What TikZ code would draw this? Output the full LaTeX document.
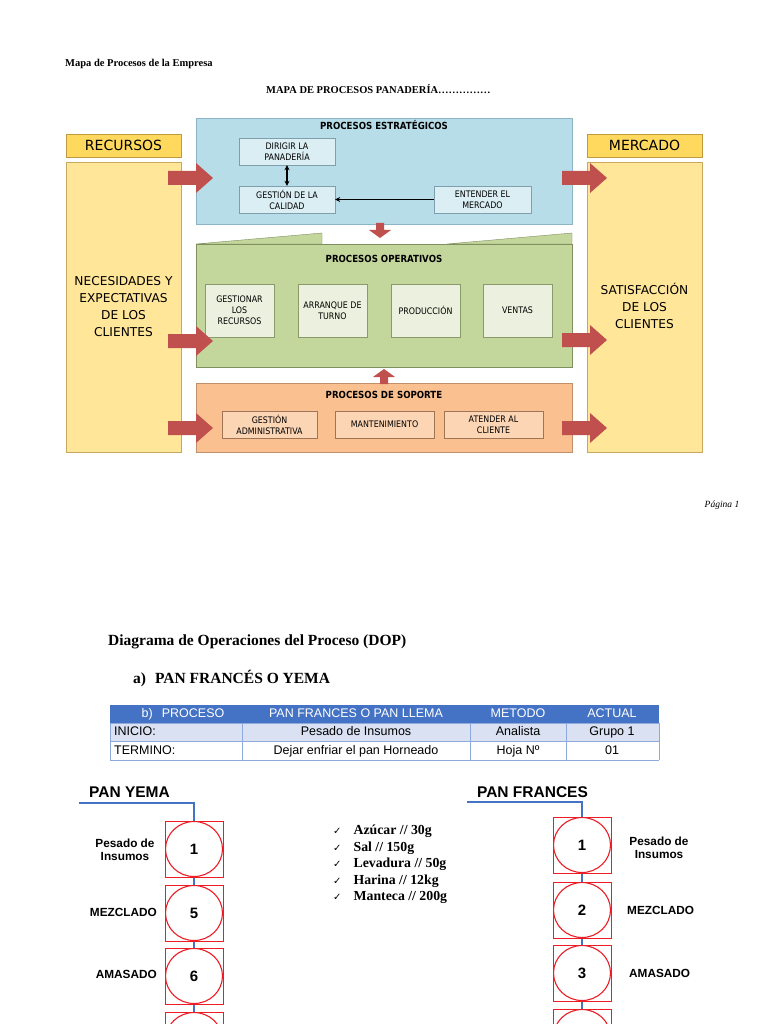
\documentclass[tikz,border=0pt]{standalone}
\usepackage{fontspec}
\setmainfont{Liberation Serif}
\newfontfamily\arial{Liberation Sans}
\newfontfamily\tah[FakeStretch=0.88]{DejaVu Sans}
\newfontfamily\dejavu{DejaVu Sans}
\usetikzlibrary{arrows.meta}
\definecolor{hdrfill}{HTML}{FFD95E}
\definecolor{hdrline}{HTML}{C09A40}
\definecolor{bodyfill}{HTML}{FFE699}
\definecolor{bodyline}{HTML}{C8A860}
\definecolor{stratfill}{HTML}{B7DDE8}
\definecolor{stratline}{HTML}{8DB3C7}
\definecolor{stratin}{HTML}{DAEEF3}
\definecolor{stratinl}{HTML}{7F9FAF}
\definecolor{operfill}{HTML}{C3D69B}
\definecolor{operline}{HTML}{7F8F5F}
\definecolor{operin}{HTML}{EBF1DE}
\definecolor{operinl}{HTML}{8A9A6A}
\definecolor{sopfill}{HTML}{FAC090}
\definecolor{sopline}{HTML}{C0906A}
\definecolor{sopin}{HTML}{FCD5B4}
\definecolor{sopinl}{HTML}{9F7556}
\definecolor{arrowred}{HTML}{C0504D}
\definecolor{tblue}{HTML}{4472C4}
\definecolor{tlav}{HTML}{D9E1F2}
\definecolor{tline}{HTML}{8EA9DB}
\definecolor{dopred}{HTML}{EE1C25}
\tikzset{
  hdr/.style={draw=hdrline, fill=hdrfill, minimum width=115pt, minimum height=23pt, inner sep=0pt, font=\dejavu\fontsize{14}{16}\selectfont},
  sidebox/.style={draw=bodyline, fill=bodyfill, minimum width=115pt, minimum height=290pt, inner sep=0pt},
  sidetext/.style={inner sep=0pt, align=center, font=\dejavu\fontsize{12.2}{17}\selectfont},
  bigbox/.style={draw=#1line, fill=#1fill, minimum width=376pt, inner sep=0pt},
  smallbox/.style={draw=#1inl, fill=#1in, inner sep=0pt, align=center, font=\tah\fontsize{9}{11}\selectfont},
  boxtitle/.style={font=\tah\bfseries\fontsize{9.8}{11}\selectfont, inner sep=0pt},
  rarrow/.pic={\fill[arrowred] (0,-7) -- (28,-7) -- (28,-15) -- (45,0) -- (28,15) -- (28,7) -- (0,7) -- cycle;},
  sarrow/.pic={\fill[arrowred] (0,-4) -- (7,-4) -- (7,-11) -- (15,0) -- (7,11) -- (7,4) -- (0,4) -- cycle;},
  opstep/.style={draw=dopred, line width=1pt, minimum width=58pt, minimum height=56pt, inner sep=0pt,
    font=\arial\bfseries\fontsize{15}{17}\selectfont,
    path picture={\draw[dopred, line width=1.1pt] (path picture bounding box.center) ellipse (28.5pt and 27.5pt);}},
  oplabel/.style={font=\arial\bfseries\fontsize{11.8}{13.5}\selectfont, inner sep=0pt, align=center},
  doplink/.style={draw=tblue, line width=1.3pt},
  tcell/.style={font=\arial\fontsize{12.5}{14}\selectfont, inner sep=0pt, text height=9pt, text depth=2.6pt},
  thead/.style={tcell, text=white},
  tip/.style={line width=1.4pt},
}
\begin{document}
\begin{tikzpicture}[x=1pt,y=-1pt]
\useasboundingbox (0,0) rectangle (768,1024);
\clip (0,0) rectangle (768,1024);
\fill[white] (0,0) rectangle (768,1024);

% ---- header texts ----
\node[anchor=west, inner sep=0pt, font=\bfseries\fontsize{10.5}{12}\selectfont] (t1) at (65,64) {Mapa de Procesos de la Empresa};
\node[anchor=west, inner sep=0pt, font=\bfseries\fontsize{10.5}{12}\selectfont] (t2) at (266,89) {MAPA DE PROCESOS PANADERÍA……………};

% ---- side boxes ----
\node[hdr] (rec) at (123.5,145.5) {RECURSOS};
\node[sidebox] (needs) at (123.5,307) {};
\node[sidetext] (needsT) at (123.5,306.5) {NECESIDADES Y\\EXPECTATIVAS\\DE LOS\\CLIENTES};
\node[hdr] (mer) at (644.5,145.5) {MERCADO};
\node[sidebox] (sat) at (644.5,307) {};
\node[sidetext] (satT) at (644.5,306) {SATISFACCIÓN\\DE LOS\\CLIENTES};

% ---- strategic ----
\node[bigbox=strat, minimum height=106pt] (strat) at (384,171) {};
\node[boxtitle] (stratT) at (384,125) {PROCESOS ESTRATÉGICOS};
\node[smallbox=strat, minimum width=96pt, minimum height=27pt] (dir) at (287,151.5) {DIRIGIR LA\\PANADERÍA};
\node[smallbox=strat, minimum width=96pt, minimum height=27pt] (cal) at (287,199.5) {GESTIÓN DE LA\\CALIDAD};
\node[smallbox=strat, minimum width=97pt, minimum height=27pt] (ent) at (482.5,199.5) {ENTENDER EL\\MERCADO};
\draw[tip, {Stealth[length=5pt,width=5pt]}-{Stealth[length=5pt,width=5pt]}] (dir.south) -- (cal.north);
\draw[tip, -{Stealth[length=5pt,width=5pt]}] (ent.west) -- (cal.east);

% ---- operative ----
\filldraw[fill=operfill, draw=operline] (196,244) -- (322,233) -- (322,244) -- cycle;
\filldraw[fill=operfill, draw=operline] (447,244) -- (572,233) -- (572,244) -- cycle;
\node[bigbox=oper, minimum height=123pt] (oper) at (384,305.5) {};
\node[boxtitle] (operT) at (384,259) {PROCESOS OPERATIVOS};
\node[smallbox=oper, minimum width=69pt, minimum height=53pt] (op1) at (239.5,310.5) {GESTIONAR\\LOS\\RECURSOS};
\node[smallbox=oper, minimum width=69pt, minimum height=53pt] (op2) at (332.5,310.5) {ARRANQUE DE\\TURNO};
\node[smallbox=oper, minimum width=69pt, minimum height=53pt] (op3) at (425.5,310.5) {PRODUCCIÓN};
\node[smallbox=oper, minimum width=69pt, minimum height=53pt] (op4) at (517.5,310.5) {VENTAS};

% ---- support ----
\node[bigbox=sop, minimum height=69pt] (sop) at (384,417.5) {};
\node[boxtitle] (sopT) at (384,395) {PROCESOS DE SOPORTE};
\node[smallbox=sop, minimum width=95pt, minimum height=27pt] (s1) at (269.5,424.5) {GESTIÓN\\ADMINISTRATIVA};
\node[smallbox=sop, minimum width=99pt, minimum height=27pt] (s2) at (384.5,424.5) {MANTENIMIENTO};
\node[smallbox=sop, minimum width=99pt, minimum height=27pt] (s3) at (493.5,424.5) {ATENDER AL\\CLIENTE};

% ---- red arrows ----
\pic at (168,178) {rarrow};
\pic at (168,341) {rarrow};
\pic at (168,428) {rarrow};
\pic at (562,178) {rarrow};
\pic at (562,340) {rarrow};
\pic at (562,428) {rarrow};
\pic[rotate=-90] at (380,223) {sarrow};
\pic[rotate=90] at (384,384) {sarrow};

\node[inner sep=0pt, font=\itshape\fontsize{9.5}{11}\selectfont] (pag) at (722,505) {Página 1};

% ---- DOP titles ----
\node[anchor=west, inner sep=0pt, font=\bfseries\fontsize{15.5}{17}\selectfont] (dopT) at (108,642) {Diagrama de Operaciones del Proceso (DOP)};
\node[anchor=west, inner sep=0pt, font=\bfseries\fontsize{15.5}{17}\selectfont] (dopA) at (133,678) {a)\hspace{9pt}PAN FRANCÉS O YEMA};

% ---- table ----
\fill[tblue] (110,705) rectangle (659,723);
\fill[tlav] (110,723) rectangle (659,741);
\draw[tline, line width=0.8pt] (110,723) -- (659,723) (110,741) -- (659,741) (110,760) -- (659,760)
  (110,723) -- (110,760) (242,723) -- (242,760) (470,723) -- (470,760) (566,723) -- (566,760) (659,723) -- (659,760);
\node[thead] (h1) at (183,714) {b)\hspace{9pt}PROCESO};
\node[thead] (h2) at (356,714) {PAN FRANCES O PAN LLEMA};
\node[thead] (h3) at (518,714) {METODO};
\node[thead] (h4) at (612,714) {ACTUAL};
\node[tcell, anchor=west] (c21) at (114,732) {INICIO:};
\node[tcell] (c22) at (356,732) {Pesado de Insumos};
\node[tcell] (c23) at (518,732) {Analista};
\node[tcell] (c24) at (612,732) {Grupo 1};
\node[tcell, anchor=west] (c31) at (114,751) {TERMINO:};
\node[tcell] (c32) at (356,751) {Dejar enfriar el pan Horneado};
\node[tcell] (c33) at (518,751) {Hoja Nº};
\node[tcell] (c34) at (612,751) {01};

% ---- PAN YEMA ----
\node[inner sep=0pt, font=\arial\bfseries\fontsize{15.5}{17}\selectfont] (yT) at (129.5,792) {PAN YEMA};
\coordinate (ystart) at (79,803);
\node[opstep] (y1) at (194,849) {1};
\node[opstep] (y2) at (194,913) {5};
\node[opstep] (y3) at (194,976) {6};
\node[opstep] (y4) at (194,1040) {};
\draw[doplink] (ystart) -| (y1.north);
\draw[doplink] (y1.south) -- (y2.north);
\draw[doplink] (y2.south) -- (y3.north);
\draw[doplink] (y3.south) -- (y4.north);
\node[oplabel] (yl1) at (125,850) {Pesado de\\Insumos};
\node[oplabel, anchor=east] (yl2) at (157,912) {MEZCLADO};
\node[oplabel, anchor=east] (yl3) at (157,974) {AMASADO};

% ---- ingredients ----
\node[anchor=north west, inner sep=0pt, align=left, font=\bfseries\fontsize{13.8}{16.5}\selectfont] (ingr) at (333,825)
 {{\dejavu\mdseries\fontsize{10}{10}\selectfont ✓}\hspace{12pt}Azúcar // 30g\\
  {\dejavu\mdseries\fontsize{10}{10}\selectfont ✓}\hspace{12pt}Sal // 150g\\
  {\dejavu\mdseries\fontsize{10}{10}\selectfont ✓}\hspace{12pt}Levadura // 50g\\
  {\dejavu\mdseries\fontsize{10}{10}\selectfont ✓}\hspace{12pt}Harina // 12kg\\
  {\dejavu\mdseries\fontsize{10}{10}\selectfont ✓}\hspace{12pt}Manteca // 200g};

% ---- PAN FRANCES ----
\node[inner sep=0pt, font=\arial\bfseries\fontsize{15.5}{17}\selectfont] (fT) at (532.5,792) {PAN FRANCES};
\coordinate (fstart) at (467,802);
\node[opstep] (f1) at (582,845) {1};
\node[opstep] (f2) at (582,910) {2};
\node[opstep] (f3) at (582,973) {3};
\node[opstep] (f4) at (582,1037) {};
\draw[doplink] (fstart) -| (f1.north);
\draw[doplink] (f1.south) -- (f2.north);
\draw[doplink] (f2.south) -- (f3.north);
\draw[doplink] (f3.south) -- (f4.north);
\node[oplabel] (fl1) at (659,848) {Pesado de\\Insumos};
\node[oplabel, anchor=west] (fl2) at (627,910) {MEZCLADO};
\node[oplabel, anchor=west] (fl3) at (629,973) {AMASADO};
\end{tikzpicture}
\end{document}
